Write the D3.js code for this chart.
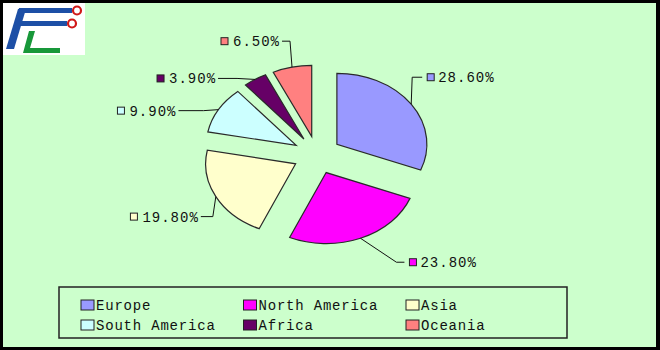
<!DOCTYPE html>
<html>
<head>
<meta charset="utf-8">
<script src="https://cdn.jsdelivr.net/npm/d3@7"></script>
<style>
  body { margin: 0; background: #000; }
  svg { display: block; }
</style>
</head>
<body>
<div id="chart"></div>
<script>
(function () {
    // Chart data (values as printed on the labels; Excel normalises them to the full pie)
    const regions = ["Europe", "North America", "Asia", "South America", "Africa", "Oceania"];
    const shares = [28.6, 23.8, 19.8, 9.9, 3.9, 6.5];
    const labels = ["28.60%", "23.80%", "19.80%", "9.90%", "3.90%", "6.50%"];
    const colours = ["#9999ff", "#ff00ff", "#ffffcc", "#ccffff", "#660066", "#ff8080"];

    // label placement relative to the leader's anchor point on the slice: [dx, dy, elbow]
    const labelLayout = [[11, -27, 10], [44, 24, 8], [-15, 20, 12], [-40, 1, 25], [-37, -1, 19], [-10, -26, 8]];

    const width = 660, height = 350;
    const cx = 317, cy = 155;
    const ry = 71, sx = 90 / 71;   // pie is stretched horizontally
    const explode = 19;

    const svg = d3.select("#chart").append("svg")
        .attr("width", width)
        .attr("height", height);

    // black frame + green chart area
    svg.append("rect").attr("width", width).attr("height", height).attr("fill", "#000");
    svg.append("rect").attr("x", 3).attr("y", 3).attr("width", 653).attr("height", 344).attr("fill", "#ccffcc");

    // logo block in the corner
    const logo = svg.append("g");
    logo.append("rect").attr("x", 3).attr("y", 3).attr("width", 82).attr("height", 52).attr("fill", "#fff");
    logo.append("path").attr("d", "M6,49 L18,9 L26,9 L14,49 Z").attr("fill", "#1d4fa6");
    logo.append("path").attr("d", "M19,8 L72,8 L72,13 L18,13 Z").attr("fill", "#1d4fa6");
    logo.append("path").attr("d", "M16,21 L67,21 L67,26 L15,26 Z").attr("fill", "#1d4fa6");
    logo.append("path").attr("d", "M29,31 L35,31 L30,48 L60,48 L60,53 L23,53 Z").attr("fill", "#18983a");
    logo.selectAll("circle.dot").data([[77, 10.5], [72, 23.5]]).join("circle")
        .attr("cx", d => d[0]).attr("cy", d => d[1]).attr("r", 4)
        .attr("fill", "#fff").attr("stroke", "#d01818").attr("stroke-width", 2.2);

    const pie = d3.pie().sort(null).value(d => d);
    const arcs = pie(shares);
    const arc = d3.arc().innerRadius(0).outerRadius(ry);
    const mid = d => (d.startAngle + d.endAngle) / 2;

    const pieG = svg.append("g").attr("transform", `translate(${cx},${cy}) scale(${sx},1)`);
    pieG.selectAll("path")
        .data(arcs)
        .join("path")
        .attr("transform", d => `translate(${explode * Math.sin(mid(d))},${-explode * Math.cos(mid(d))})`)
        .attr("d", arc)
        .attr("fill", (d, i) => colours[i])
        .attr("stroke", "#2a2a2a")
        .attr("stroke-width", 1.2)
        .attr("vector-effect", "non-scaling-stroke");

    // data labels with leader lines
    const labelG = svg.append("g")
        .attr("font-family", "'Liberation Mono', 'DejaVu Sans Mono', monospace")
        .attr("font-size", 14)
        .attr("letter-spacing", 1);

    arcs.forEach((d, i) => {
        const a = mid(d);
        const r = ry + explode;
        const ax = cx + sx * r * Math.sin(a);
        const ay = cy - r * Math.cos(a);
        const [dx, dy, elbow] = labelLayout[i];
        const ex = ax + dx, ey = ay + dy;
        const side = dx >= 0 ? 1 : -1;

        labelG.append("path")
            .attr("d", `M${ax},${ay} L${ex - side * elbow},${ey} L${ex},${ey}`)
            .attr("fill", "none")
            .attr("stroke", "#111")
            .attr("stroke-width", 1);

        const text = labelG.append("text")
            .attr("y", ey + 5)
            .attr("fill", "#111")
            .text(labels[i]);

        let boxX;
        if (side > 0) {
            boxX = ex + 5;
            text.attr("x", ex + 16);
        } else {
            text.attr("x", ex - 2).attr("text-anchor", "end");
            const w = text.node().getComputedTextLength();
            boxX = ex - 2 - w - 12;
        }
        labelG.append("rect")
            .attr("x", boxX).attr("y", ey - 3.5)
            .attr("width", 7).attr("height", 7)
            .attr("fill", colours[i])
            .attr("stroke", "#222")
            .attr("stroke-width", 1);
    });

    // legend
    const legend = svg.append("g").attr("transform", "translate(59,287)");
    legend.append("rect")
        .attr("width", 508).attr("height", 51)
        .attr("fill", "#ccffcc")
        .attr("stroke", "#222")
        .attr("stroke-width", 1.5);

    const item = legend.selectAll("g.item")
        .data(regions)
        .join("g")
        .attr("transform", (d, i) => `translate(${22 + (i % 3) * 162.5},${18 + Math.floor(i / 3) * 20})`);
    item.append("rect")
        .attr("x", 0).attr("y", -5)
        .attr("width", 13).attr("height", 10)
        .attr("fill", (d, i) => colours[i])
        .attr("stroke", "#222")
        .attr("stroke-width", 1);
    item.append("text")
        .attr("x", 15).attr("y", 5)
        .attr("font-family", "'Liberation Mono', 'DejaVu Sans Mono', monospace")
        .attr("font-size", 14)
        .attr("letter-spacing", 0.8)
        .attr("fill", "#111")
        .text(d => d);
})();
</script>
</body>
</html>
